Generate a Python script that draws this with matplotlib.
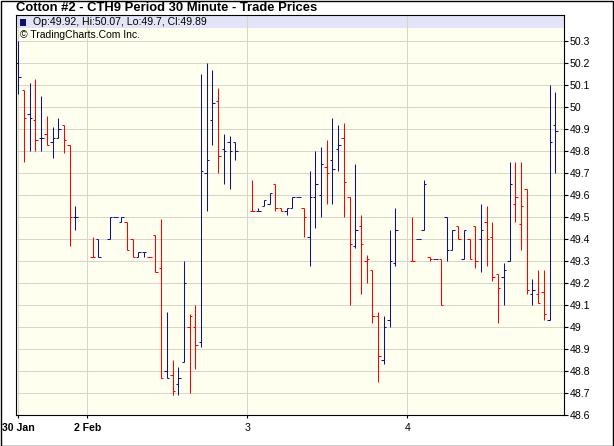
import matplotlib
matplotlib.use("Agg")
import matplotlib.pyplot as plt
from matplotlib.patches import Rectangle

# ---------------- data ----------------
title = "Cotton #2 - CTH9 Period 30 Minute - Trade Prices"
legend_text = "Op:49.92, Hi:50.07, Lo:49.7, Cl:49.89"
credit = "\u00a9 TradingCharts.Com Inc."

day_labels = ["30 Jan", "2 Feb", "3", "4"]
periods_per_day = 28

days = [0]*11 + [1]*25 + [2]*26 + [3]*26
periods = ([15, 16, 17, 18, 19, 20, 21, 22, 23, 24, 25] +
           [0, 1, 3, 4, 5, 6, 7, 8, 9, 10, 11, 12, 13, 14, 15, 16, 17, 18, 19, 20, 21, 22, 23, 24, 25] +
           [0, 1, 2, 3, 4, 5, 6, 7, 8, 9, 10, 11, 12, 13, 14, 15, 16, 17, 18, 19, 20, 21, 22, 23, 24, 25] +
           [0, 1, 2, 3, 4, 5, 6, 7, 8, 9, 10, 11, 12, 13, 14, 15, 16, 17, 18, 19, 20, 21, 22, 23, 24, 25])

opens = [50.20, 50.08, 49.97, 49.94, 49.86, 49.88, 49.84, 49.86, 49.92, 49.83, 49.50,
         49.32, 49.40, 49.40, 49.50, 49.48, 49.48, 49.40, 49.32, 49.34, 49.32, 49.42, 49.27, 48.80,
         48.78, 48.74, 48.84, 49.00, 49.00, 48.93, 49.70, 49.94, 50.03, 49.81, 49.84, 49.84,
         49.53, 49.53, 49.55, 49.56, 49.65, 49.54, 49.53, 49.54, 49.59, 49.54, 49.41, 49.59, 49.60,
         49.73, 49.76, 49.81, 49.86, 49.59, 49.37, 49.46, 49.30, 49.26, 49.05, 48.85, 49.03, 49.29,
         49.30, 49.40, 49.44, 49.32, 49.31, 49.31, 49.50, 49.35, 49.46, 49.31, 49.40, 49.46, 49.40,
         49.48, 49.41, 49.24, 49.23, 49.30, 49.56, 49.47, 49.63, 49.15, 49.15, 49.16, 49.03, 49.92]
highs = [50.30, 50.08, 50.11, 50.13, 50.05, 49.96, 49.91, 49.95, 49.92, 49.83, 49.55,
         49.41, 49.40, 49.50, 49.50, 49.50, 49.48, 49.40, 49.34, 49.34, 49.32, 49.42, 49.49, 49.07,
         48.85, 48.82, 49.30, 49.06, 49.10, 50.15, 50.20, 50.17, 50.09, 49.88, 49.87, 49.84,
         49.67, 49.54, 49.58, 49.61, 49.65, 49.54, 49.54, 49.59, 49.59, 49.54, 49.71, 49.80, 49.82,
         49.85, 49.95, 49.92, 49.93, 49.59, 49.74, 49.51, 49.33, 49.26, 49.07, 49.05, 49.44, 49.54,
         49.50, 49.40, 49.67, 49.32, 49.31, 49.31, 49.50, 49.44, 49.46, 49.44, 49.40, 49.46, 49.56,
         49.55, 49.48, 49.24, 49.29, 49.75, 49.75, 49.75, 49.63, 49.22, 49.26, 49.26, 50.10, 50.07]
lows = [50.06, 49.75, 49.80, 49.80, 49.80, 49.83, 49.77, 49.86, 49.79, 49.37, 49.44,
        49.32, 49.32, 49.40, 49.50, 49.48, 49.35, 49.32, 49.32, 49.32, 49.32, 49.25, 48.77, 48.77,
        48.69, 48.69, 48.84, 48.70, 48.81, 48.91, 49.53, 49.83, 49.70, 49.65, 49.63, 49.76,
        49.53, 49.53, 49.55, 49.56, 49.53, 49.53, 49.51, 49.54, 49.59, 49.41, 49.28, 49.45, 49.50,
        49.56, 49.56, 49.71, 49.50, 49.10, 49.36, 49.15, 49.20, 49.02, 48.75, 48.83, 49.00, 49.28,
        49.30, 49.40, 49.44, 49.30, 49.31, 49.10, 49.30, 49.35, 49.40, 49.31, 49.31, 49.27, 49.25,
        49.28, 49.21, 49.02, 49.10, 49.30, 49.48, 49.35, 49.15, 49.10, 49.11, 49.03, 49.03, 49.70]
closes = [50.14, 49.95, 49.95, 49.85, 49.86, 49.83, 49.86, 49.90, 49.85, 49.50, 49.50,
          49.32, 49.32, 49.50, 49.50, 49.50, 49.35, 49.32, 49.34, 49.34, 49.32, 49.25, 48.77, 48.77,
          48.71, 48.77, 49.20, 49.05, 48.92, 49.71, 49.76, 50.02, 49.78, 49.80, 49.80, 49.80,
          49.53, 49.53, 49.58, 49.61, 49.54, 49.53, 49.54, 49.59, 49.59, 49.50, 49.59, 49.65, 49.74,
          49.70, 49.72, 49.83, 49.66, 49.38, 49.44, 49.38, 49.31, 49.05, 48.87, 49.00, 49.30, 49.44,
          49.30, 49.40, 49.65, 49.31, 49.31, 49.10, 49.35, 49.44, 49.40, 49.44, 49.31, 49.30, 49.44,
          49.40, 49.23, 49.18, 49.26, 49.65, 49.59, 49.55, 49.17, 49.17, 49.11, 49.06, 49.84, 49.89]

y_ticks = [48.6, 48.7, 48.8, 48.9, 49.0, 49.1, 49.2, 49.3, 49.4, 49.5, 49.6, 49.7,
           49.8, 49.9, 50.0, 50.1, 50.2, 50.3]

# ---------------- style ----------------
UP = "#10108a"
DOWN = "#ff0000"
PLOT_BG = "#fffff0"
BAND = "#e4e4f8"
GRID = "#d6d6cc"
FONT = "Liberation Sans"

W, H = 614, 446
fig = plt.figure(figsize=(W / 100, H / 100), dpi=100)
fig.patch.set_facecolor("white")

left, right, top, bottom = 16, 563.5, 15, 415
ax = fig.add_axes([left / W, (H - bottom) / H, (right - left) / W, (bottom - top) / H])
ax.set_facecolor(PLOT_BG)

xs = [d * periods_per_day + p for d, p in zip(days, periods)]
colors = []
for i, c in enumerate(closes):
    if i == 0 or c >= closes[i - 1]:
        colors.append(UP)
    else:
        colors.append(DOWN)

tick = 0.42
lw = 0.75
v = ax.vlines(xs, lows, highs, colors=colors, lw=lw, zorder=3)
o = ax.hlines(opens, [x - tick for x in xs], xs, colors=colors, lw=lw, zorder=3)
c = ax.hlines(closes, xs, [x + tick for x in xs], colors=colors, lw=lw, zorder=3)
for coll in (v, o, c):
    coll.set_snap(True)
    coll.set_capstyle("butt")

xmin = xs[0] - 0.4
xmax = xs[-1] + 1.45
ax.set_xlim(xmin, xmax)
ax.set_ylim(48.6, 50.42)

# day ticks
day_ticks = [xs[0]] + [d * periods_per_day - 0.9 for d in range(1, len(day_labels))]
ax.set_xticks(day_ticks)
ax.set_xticklabels(day_labels, fontfamily=FONT, fontsize=7.6)
for lab in ax.get_xticklabels():
    if " " in lab.get_text():
        lab.set_fontweight("bold")
ax.tick_params(axis="x", length=2.5, width=0.8, pad=3, colors="black")

ax.yaxis.tick_right()
ax.set_yticks(y_ticks)
ax.set_yticklabels([f"{v:g}" for v in y_ticks], fontfamily=FONT, fontsize=7.6)
ax.tick_params(axis="y", length=3, width=0.8, pad=1.5)

ax.grid(True, color=GRID, lw=0.75)
ax.set_axisbelow(True)
for s in ax.spines.values():
    s.set_linewidth(0.8)
    s.set_color("black")

# top legend band
band_h = (28 - top) / (bottom - top)
ax.add_patch(Rectangle((0, 1 - band_h), 1, band_h, transform=ax.transAxes,
                       facecolor=BAND, edgecolor="none", zorder=0.2))

# texts
fig.text(16 / W, 1 - 8 / H, title, fontfamily=FONT, fontweight="bold",
         fontsize=9.4, va="center", ha="left")
fig.add_artist(Rectangle((19.5 / W, 1 - 26 / H), 6.5 / W, 7 / H, transform=fig.transFigure,
                         facecolor="#10106e", edgecolor="none"))
fig.text(33 / W, 1 - 22 / H, legend_text, fontfamily=FONT, fontsize=7.6,
         va="center", ha="left")
fig.text(20 / W, 1 - 35 / H, credit, fontfamily=FONT, fontsize=7.5,
         va="center", ha="left")

# outer border
fig.add_artist(Rectangle((0.5 / W, 0.5 / H), (W - 1.2) / W, (H - 1.2) / H,
                         transform=fig.transFigure, facecolor="none",
                         edgecolor="black", lw=1.0))

fig.savefig("out.png", dpi=100)
